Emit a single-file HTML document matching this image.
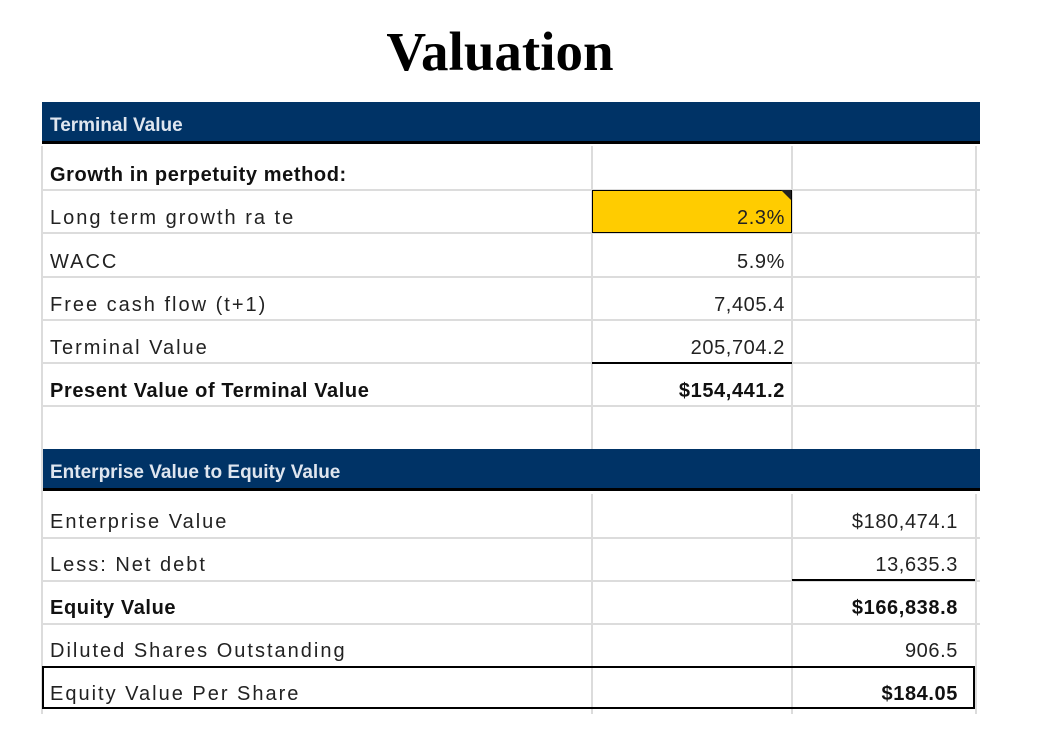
<!DOCTYPE html>
<html><head><meta charset="utf-8"><style>
body{margin:0;width:1043px;height:736px;background:#fff;position:relative;overflow:hidden;font-family:"Liberation Sans",sans-serif;}
.t{position:absolute;left:0;width:1000px;top:20px;text-align:center;font-family:"Liberation Serif",serif;font-weight:bold;font-size:55px;color:#000;}
.hdr{position:absolute;left:42px;width:938px;height:42px;background:#003366;border-bottom:3px solid #000;color:#dfe6ef;font-weight:bold;font-size:19px;line-height:48px;padding-left:8px;box-sizing:border-box;}
.hl{position:absolute;height:2px;background:#dcdcdc;left:42px;width:938px;}
.vl{position:absolute;width:2px;background:#dcdcdc;}
.c{position:absolute;font-size:20px;color:#222;height:43px;line-height:46px;white-space:nowrap;}
.lab{left:50px;letter-spacing:2px;}
.b{font-weight:bold;letter-spacing:0.6px;color:#111;}
.v2{left:560px;width:225px;text-align:right;letter-spacing:0.6px;}
.v3{left:760px;width:198px;text-align:right;letter-spacing:0.6px;}
</style></head><body>
<div class="t">Valuation</div>
<div class="hdr" style="top:102px">Terminal Value</div>
<div class="hdr" style="top:449px">Enterprise Value to Equity Value</div>
<div class="vl" style="left:41px;top:146px;height:568px"></div>
<div class="vl" style="left:591px;top:146px;height:303px"></div>
<div class="vl" style="left:791px;top:146px;height:303px"></div>
<div class="vl" style="left:975px;top:146px;height:303px"></div>
<div class="vl" style="left:591px;top:494px;height:220px"></div>
<div class="vl" style="left:791px;top:494px;height:220px"></div>
<div class="vl" style="left:975px;top:494px;height:220px"></div>
<div class="hl" style="top:189px"></div><div class="hl" style="top:232px"></div>
<div class="hl" style="top:276px"></div><div class="hl" style="top:319px"></div>
<div class="hl" style="top:362px"></div><div class="hl" style="top:405px"></div>
<div class="hl" style="top:537px"></div><div class="hl" style="top:580px"></div>
<div class="hl" style="top:623px"></div>
<div style="position:absolute;left:592px;top:362px;width:200px;height:2px;background:#000"></div>
<div style="position:absolute;left:792px;top:579px;width:183px;height:2px;background:#000"></div>
<div style="position:absolute;left:42px;top:666px;width:933px;height:43px;border:2px solid #000;box-sizing:border-box"></div>
<div style="position:absolute;left:592px;top:190px;width:200px;height:43px;background:#ffcc00;border:1px solid #000;box-sizing:border-box"></div>
<div style="position:absolute;left:781px;top:190px;width:0;height:0;border-top:10px solid #222;border-left:10px solid transparent"></div>
<div class="c lab b" style="top:152px">Growth in perpetuity method:</div>
<div class="c lab" style="top:195px">Long term growth ra te</div>
<div class="c v2" style="top:195px">2.3%</div>
<div class="c lab" style="top:239px">WACC</div>
<div class="c v2" style="top:239px">5.9%</div>
<div class="c lab" style="top:282px">Free cash flow (t+1)</div>
<div class="c v2" style="top:282px">7,405.4</div>
<div class="c lab" style="top:325px">Terminal Value</div>
<div class="c v2" style="top:325px">205,704.2</div>
<div class="c lab b" style="top:368px">Present Value of Terminal Value</div>
<div class="c v2 b" style="top:368px">$154,441.2</div>
<div class="c lab" style="top:499px">Enterprise Value</div>
<div class="c v3" style="top:499px">$180,474.1</div>
<div class="c lab" style="top:542px">Less: Net debt</div>
<div class="c v3" style="top:542px">13,635.3</div>
<div class="c lab b" style="top:585px">Equity Value</div>
<div class="c v3 b" style="top:585px">$166,838.8</div>
<div class="c lab" style="top:628px">Diluted Shares Outstanding</div>
<div class="c v3" style="top:628px">906.5</div>
<div class="c lab" style="top:671px">Equity Value Per Share</div>
<div class="c v3 b" style="top:671px">$184.05</div>
</body></html>
